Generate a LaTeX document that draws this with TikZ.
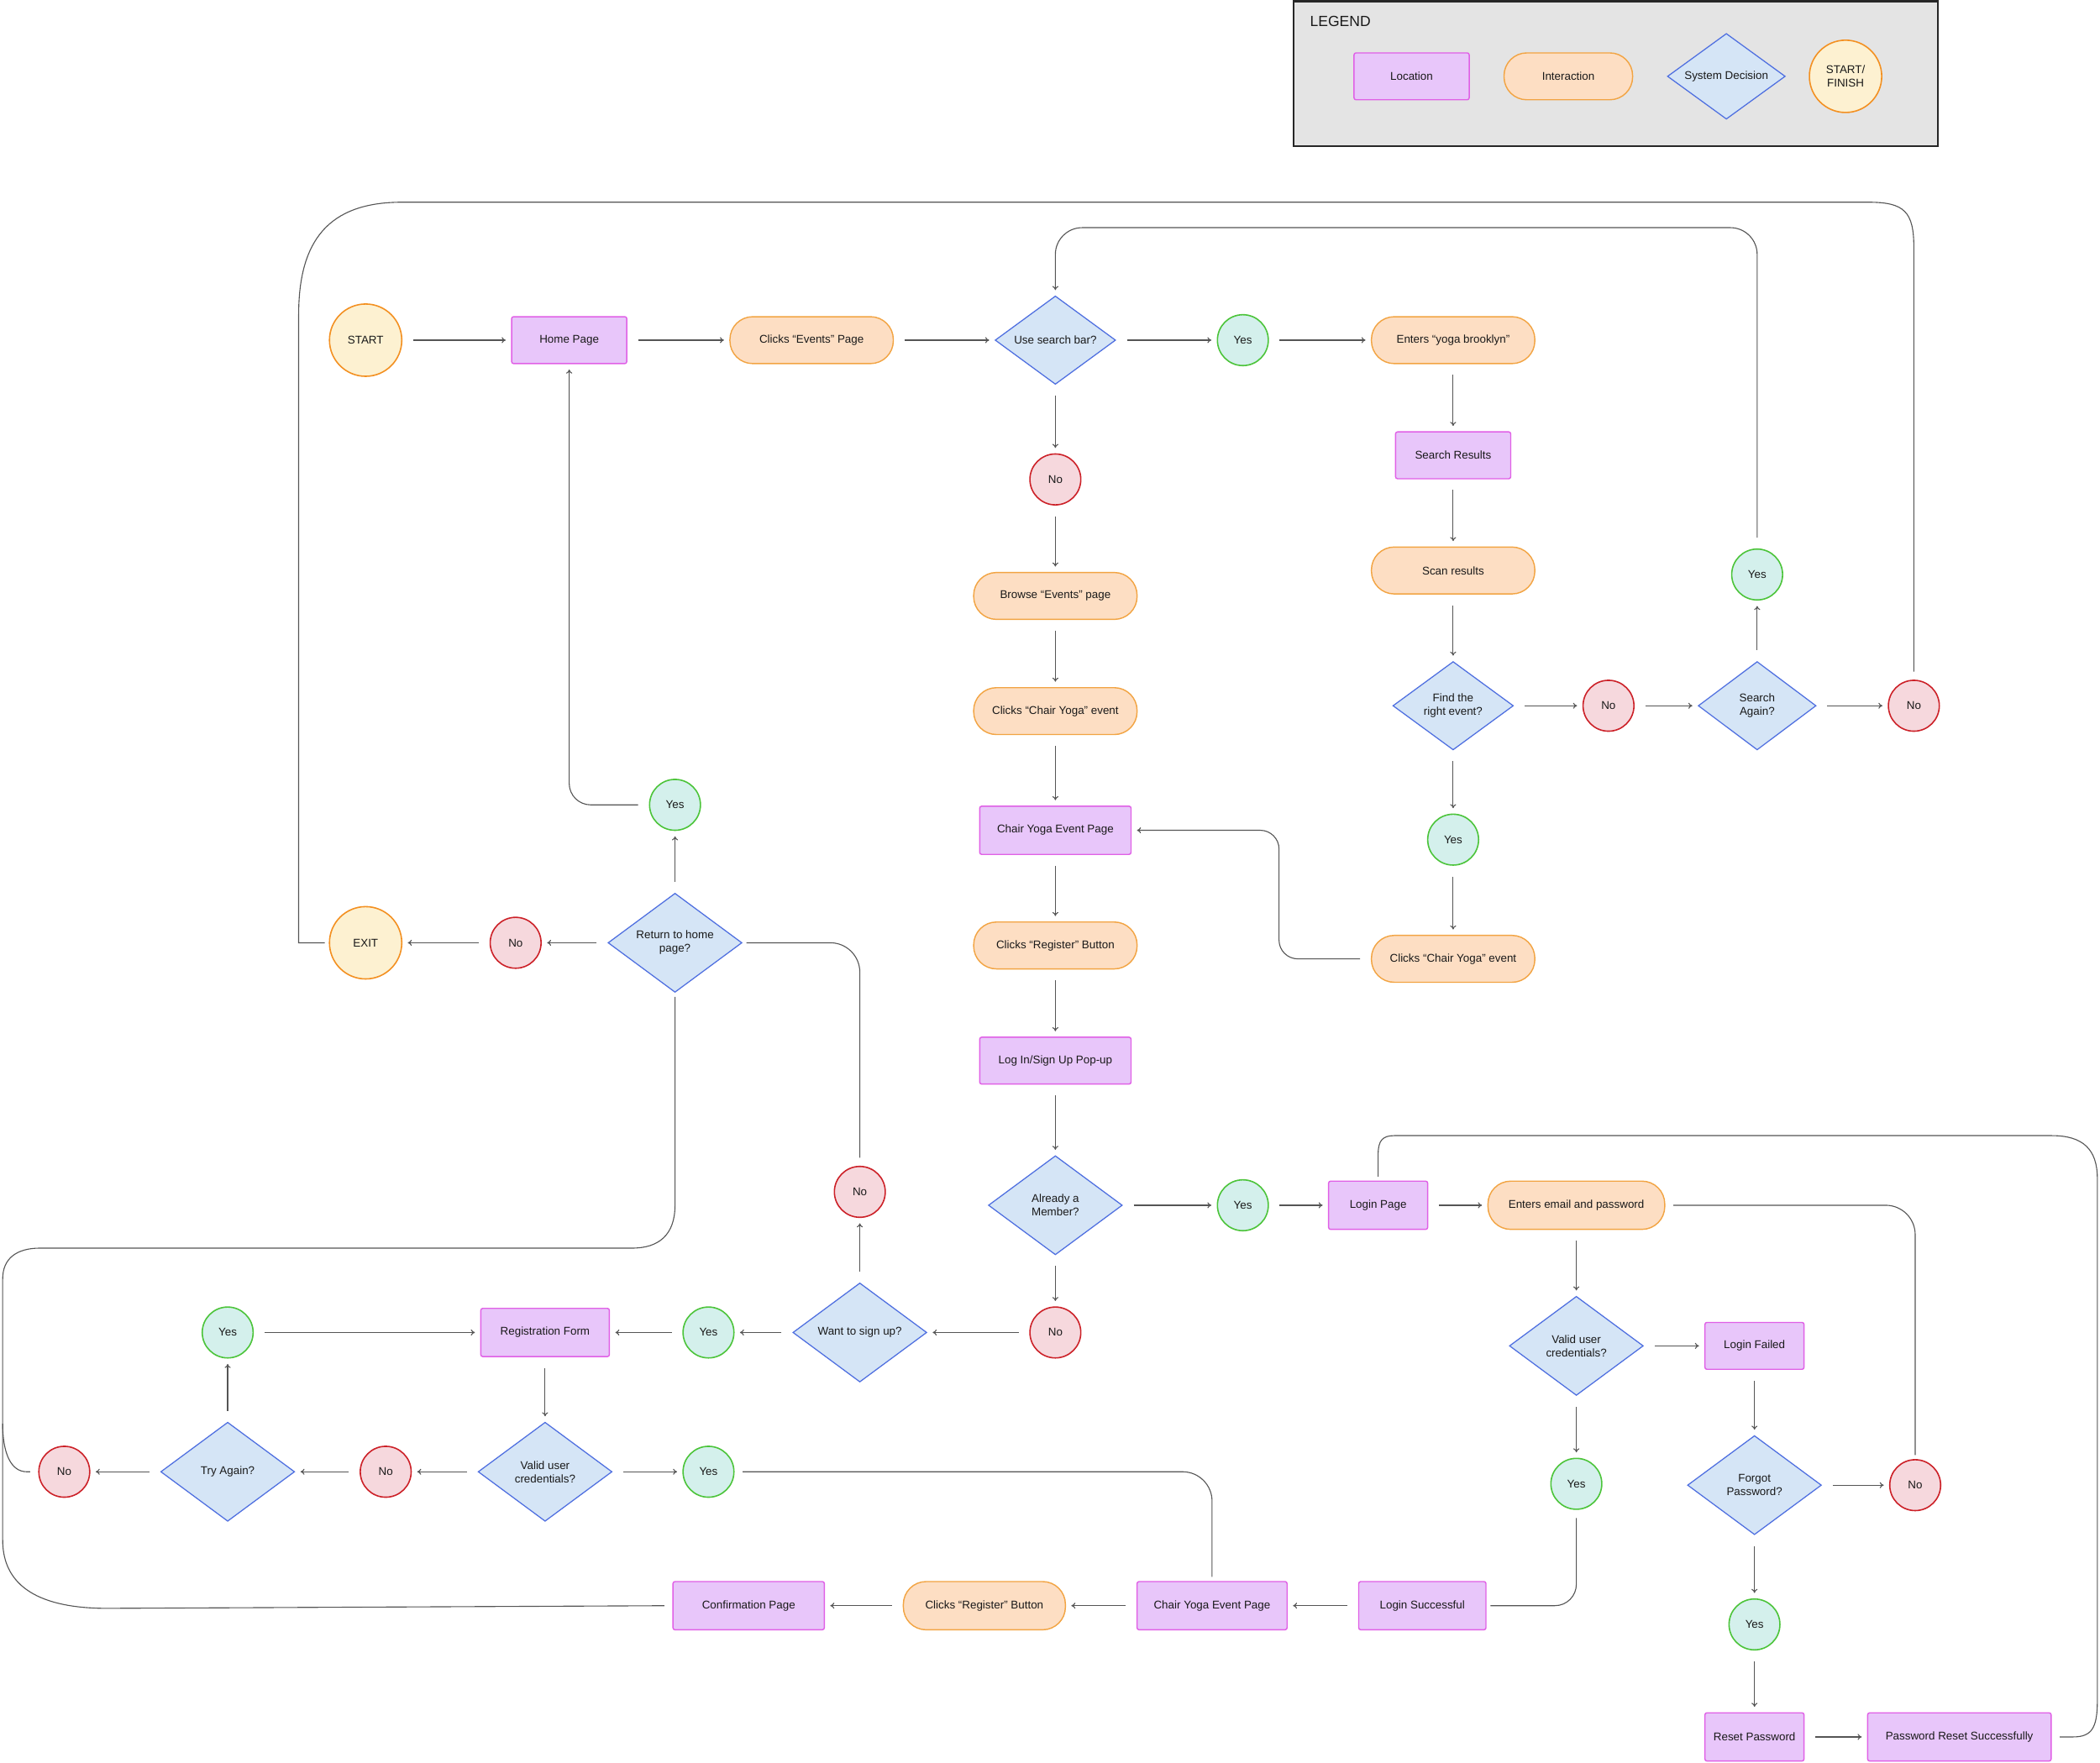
\documentclass[tikz,border=0pt]{standalone}
\usepackage{fontspec}
\setmainfont{Liberation Sans}
\usetikzlibrary{shapes.geometric,arrows.meta}
\definecolor{locf}{HTML}{E8C6FA}
\definecolor{locb}{HTML}{E060E6}
\definecolor{intf}{HTML}{FDDEC3}
\definecolor{intb}{HTML}{F2A443}
\definecolor{decf}{HTML}{D5E5F6}
\definecolor{decb}{HTML}{4F6FE0}
\definecolor{termf}{HTML}{FDF1D1}
\definecolor{termb}{HTML}{F39021}
\definecolor{yesf}{HTML}{D4F0EC}
\definecolor{yesb}{HTML}{4CC43A}
\definecolor{nof}{HTML}{F6D8DD}
\definecolor{nob}{HTML}{CC2128}
\definecolor{lc}{HTML}{555555}
\definecolor{legf}{HTML}{E4E4E4}
\begin{document}
\begin{tikzpicture}[x=1pt,y=-1pt,
  every node/.style={font=\fontsize{8.4}{10}\selectfont, text=black!90, align=center, inner sep=0pt},
  loc/.style={rectangle, draw=locb, fill=locf, line width=0.9pt, rounded corners=1.5pt, minimum width=86pt, minimum height=35pt},
  inter/.style={rectangle, draw=intb, fill=intf, line width=0.9pt, rounded corners=17pt, minimum width=122pt, minimum height=35pt},
  dec/.style={diamond, aspect=1.36, draw=decb, fill=decf, line width=0.8pt, minimum width=100pt, minimum height=74pt},
  decs/.style={dec, minimum width=90pt, minimum height=66pt},
  term/.style={circle, draw=termb, fill=termf, line width=1pt, minimum size=54pt},
  yesn/.style={circle, draw=yesb, fill=yesf, line width=1pt, minimum size=38pt},
  non/.style={circle, draw=nob, fill=nof, line width=1pt, minimum size=38pt},
  ar/.style={draw=lc, line width=0.7pt, -{To[length=3pt,width=4.5pt]}, shorten <=8pt, shorten >=4pt},
  ln/.style={draw=lc, line width=0.7pt, shorten <=6pt, shorten >=3pt}
]
\useasboundingbox (0,0) rectangle (1568,1316);
% legend
\draw[line width=1.4pt, draw=black!85, fill=legf] (966,1) rectangle (1447,109);
\node[anchor=west, font=\fontsize{11}{13}\selectfont] (legt) at (978,16) {LEGEND};
\node[loc] (lg1) at (1054,57) {Location};
\node[inter, minimum width=96pt] (lg2) at (1171,57) {Interaction};
\node[decs, minimum width=88pt, minimum height=64pt] (lg3) at (1289,57) {System Decision};
\node[term] (lg4) at (1378,57) {START/\\FINISH};
% nodes
\node[term] (start) at (273,254) {START};
\node[loc] (home) at (425,254) {Home Page};
\node[inter] (clickev) at (606,254) {Clicks “Events” Page};
\node[decs] (usesearch) at (788,254) {Use search bar?};
\node[yesn] (yes1) at (928,254) {Yes};
\node[inter] (enters) at (1085,254) {Enters “yoga brooklyn”};
\node[loc] (sresults) at (1085,340) {Search Results};
\node[inter] (scan) at (1085,426) {Scan results};
\node[decs] (find) at (1085,527) {Find the\\right event?};
\node[non] (no2) at (1201,527) {No};
\node[decs, minimum width=88pt] (again) at (1312,527) {Search\\Again?};
\node[non] (no3) at (1429,527) {No};
\node[yesn] (yes3) at (1312,429) {Yes};
\node[yesn] (yes2) at (1085,627) {Yes};
\node[inter] (clickcy2) at (1085,716) {Clicks “Chair Yoga” event};
\node[non] (no1) at (788,358) {No};
\node[inter] (browse) at (788,445) {Browse “Events” page};
\node[inter] (clickcy) at (788,531) {Clicks “Chair Yoga” event};
\node[loc, minimum width=113pt, minimum height=36pt] (cyep) at (788,620) {Chair Yoga Event Page};
\node[inter] (clickreg) at (788,706) {Clicks “Register” Button};
\node[loc, minimum width=113pt] (popup) at (788,792) {Log In/Sign Up Pop-up};
\node[dec] (member) at (788,900) {Already a\\Member?};
\node[yesn] (yes4) at (928,900) {Yes};
\node[loc, minimum width=74pt, minimum height=36pt] (login) at (1029,900) {Login Page};
\node[inter, minimum width=132pt, minimum height=36pt] (email) at (1177,900) {Enters email and password};
\node[dec] (valid1) at (1177,1005) {Valid user\\credentials?};
\node[loc, minimum width=74pt] (failed) at (1310,1005) {Login Failed};
\node[dec] (forgot) at (1310,1109) {Forgot\\Password?};
\node[non] (no5) at (1430,1109) {No};
\node[yesn] (yes5) at (1177,1108) {Yes};
\node[yesn] (yes6) at (1310,1213) {Yes};
\node[loc, minimum width=74pt, minimum height=36pt] (reset) at (1310,1297) {Reset Password};
\node[loc, minimum width=137pt, minimum height=36pt] (resetok) at (1463,1297) {Password Reset Successfully};
\node[loc, minimum width=95pt, minimum height=36pt] (loginok) at (1062,1199) {Login Successful};
\node[loc, minimum width=112pt, minimum height=36pt] (cyep2) at (905,1199) {Chair Yoga Event Page};
\node[inter, minimum width=121pt, minimum height=36pt] (clickreg2) at (735,1199) {Clicks “Register” Button};
\node[loc, minimum width=113pt, minimum height=36pt] (confirm) at (559,1199) {Confirmation Page};
\node[non] (no4) at (788,995) {No};
\node[dec] (signup) at (642,995) {Want to sign up?};
\node[yesn] (yes7) at (529,995) {Yes};
\node[loc, minimum width=96pt, minimum height=36pt] (regform) at (407,995) {Registration Form};
\node[dec] (valid2) at (407,1099) {Valid user\\credentials?};
\node[yesn] (yes8) at (529,1099) {Yes};
\node[non] (no6) at (288,1099) {No};
\node[dec] (tryagain) at (170,1099) {Try Again?};
\node[non] (no7) at (48,1099) {No};
\node[yesn] (yes9) at (170,995) {Yes};
\node[non] (no8) at (642,890) {No};
\node[dec] (rethome) at (504,704) {Return to home\\page?};
\node[non] (no9) at (385,704) {No};
\node[term] (exit) at (273,704) {EXIT};
\node[yesn] (yes10) at (504,601) {Yes};
% straight arrows
\draw[ar] (start) -- (home);
\draw[ar] (home) -- (clickev);
\draw[ar] (clickev) -- (usesearch);
\draw[ar] (usesearch) -- (yes1);
\draw[ar] (yes1) -- (enters);
\draw[ar] (enters) -- (sresults);
\draw[ar] (sresults) -- (scan);
\draw[ar] (scan) -- (find.north);
\draw[ar] (find.east) -- (no2);
\draw[ar] (no2) -- (again);
\draw[ar] (again) -- (no3);
\draw[ar] (again) -- (yes3);
\draw[ar] (find.south) -- (yes2);
\draw[ar] (yes2) -- (clickcy2);
\draw[ar] (usesearch) -- (no1);
\draw[ar] (no1) -- (browse);
\draw[ar] (browse) -- (clickcy);
\draw[ar] (clickcy) -- (cyep);
\draw[ar] (cyep) -- (clickreg);
\draw[ar] (clickreg) -- (popup);
\draw[ar] (popup) -- (member);
\draw[ar] (member) -- (yes4);
\draw[ar] (yes4) -- (login);
\draw[ar] (login) -- (email);
\draw[ar] (email) -- (valid1);
\draw[ar] (valid1) -- (failed);
\draw[ar] (failed) -- (forgot);
\draw[ar] (forgot) -- (no5);
\draw[ar] (forgot) -- (yes6);
\draw[ar] (yes6) -- (reset);
\draw[ar] (reset) -- (resetok);
\draw[ar] (valid1) -- (yes5);
\draw[ar] (loginok) -- (cyep2);
\draw[ar] (cyep2) -- (clickreg2);
\draw[ar] (clickreg2) -- (confirm);
\draw[ar] (member) -- (no4);
\draw[ar] (no4) -- (signup);
\draw[ar] (signup) -- (yes7);
\draw[ar] (yes7) -- (regform);
\draw[ar] (regform) -- (valid2);
\draw[ar] (valid2) -- (yes8);
\draw[ar] (valid2) -- (no6);
\draw[ar] (no6) -- (tryagain);
\draw[ar] (tryagain) -- (no7);
\draw[ar] (tryagain) -- (yes9);
\draw[ar] (yes9) -- (regform);
\draw[ar] (signup) -- (no8);
\draw[ar] (rethome) -- (no9);
\draw[ar] (no9) -- (exit);
\draw[ar] (rethome) -- (yes10);
% routed connectors
\draw[ar, rounded corners=20pt] (yes3.north) -- (1312,170) -- (788,170) -- (usesearch.north);
\draw[ln] (no3.north) -- (1429,185) .. controls (1429,158) and (1422,151) .. (1395,151) -- (300,151) .. controls (245,151) and (223,180) .. (223,235) -- (223,704) -- (exit.west);
\draw[ar, rounded corners=14pt] (clickcy2.west) -- (955,716) -- (955,620) -- (cyep.east);
\draw[ln, rounded corners=22pt] (email.east) -- (1430,900) -- (no5.north);
\draw[ln] (resetok.east) -- (1548,1297) .. controls (1562,1297) and (1566,1290) .. (1566,1270) -- (1566,880) .. controls (1566,858) and (1555,848) .. (1532,848) -- (1041,848) .. controls (1032,848) and (1029,852) .. (1029,862) -- (login.north);
\draw[ln, rounded corners=16pt] (yes5.south) -- (1177,1199) -- (loginok.east);
\draw[ln] (confirm.west) -- (80,1201) .. controls (30,1201) and (2,1185) .. (2,1150) -- (2,955) .. controls (2,940) and (12,932) .. (30,932) -- (472,932) .. controls (492,932) and (504,922) .. (504,900) -- (rethome.south);
\draw[ln] (no7.west) -- (20,1099) .. controls (8,1099) and (2,1085) .. (2,1060);
\draw[ar, rounded corners=16pt] (yes10.west) -- (425,601) -- (home.south);
\draw[ln, rounded corners=22pt] (no8.north) -- (642,704) -- (rethome.east);
\draw[ln, rounded corners=22pt] (yes8.east) -- (905,1099) -- (cyep2.north);
\end{tikzpicture}
\end{document}
